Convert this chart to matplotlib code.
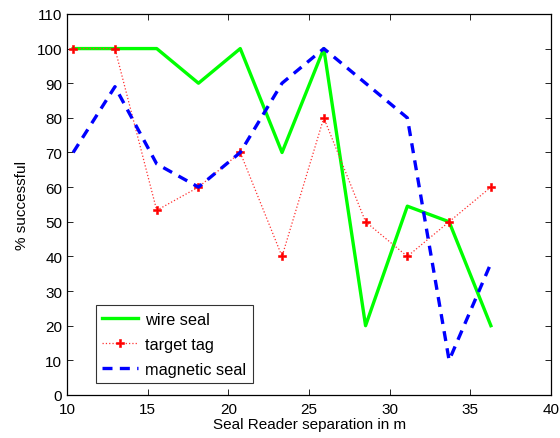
import matplotlib
matplotlib.use("Agg")
import matplotlib.pyplot as plt

plt.rcParams["font.family"] = ["Liberation Sans", "DejaVu Sans"]

# seal reader separation (m)
sep = [10.37, 12.96, 15.55, 18.14, 20.73, 23.32, 25.91, 28.5, 31.09, 33.68, 36.27]

wire_seal = [100, 100, 100, 90, 100, 70, 100, 20, 54.5, 50, 20]
target_tag = [100, 100, 53.3, 60, 70, 40, 80, 50, 40, 50, 60]
magnetic_seal = [70, 89, 66.7, 60, 70, 90, 100, 90, 80, 10, 38]

fig = plt.figure(figsize=(5.6, 4.39), dpi=100)
ax = fig.add_axes([0.120, 0.098, 0.864, 0.868])

ax.plot(sep, wire_seal, color="#00ff00", lw=2.4, label="wire seal")
ax.plot(sep, target_tag, color="#ff3030", lw=0.9, ls=":", marker="P",
        markersize=5.5, markerfacecolor="#ff0000", markeredgecolor="#ff0000",
        markeredgewidth=0.4, label="target tag")
ax.plot(sep, magnetic_seal, color="#0000ff", lw=2.4, ls=(0, (3, 2.2)),
        label="magnetic seal")

ax.set_xlim(10, 40)
ax.set_ylim(0, 110)
ax.set_xticks(range(10, 41, 5))
ax.set_yticks(range(0, 111, 10))
ax.tick_params(direction="in", top=True, right=True, labelsize=11, length=4,
               width=0.6)
ax.tick_params(axis="x", pad=5)
for s in ax.spines.values():
    s.set_linewidth(0.9)

ax.set_xlabel("Seal Reader separation in m", fontsize=11, labelpad=1)
ax.set_ylabel("% successful", fontsize=11, labelpad=6)

leg = ax.legend(loc="lower left", bbox_to_anchor=(0.059, 0.031), fontsize=11.8,
                frameon=True, fancybox=False, edgecolor="black",
                borderpad=0.4, handlelength=2.2, labelspacing=0.6,
                handletextpad=0.4, borderaxespad=0)
leg.get_frame().set_linewidth(0.8)

fig.savefig("out.png", dpi=100)
